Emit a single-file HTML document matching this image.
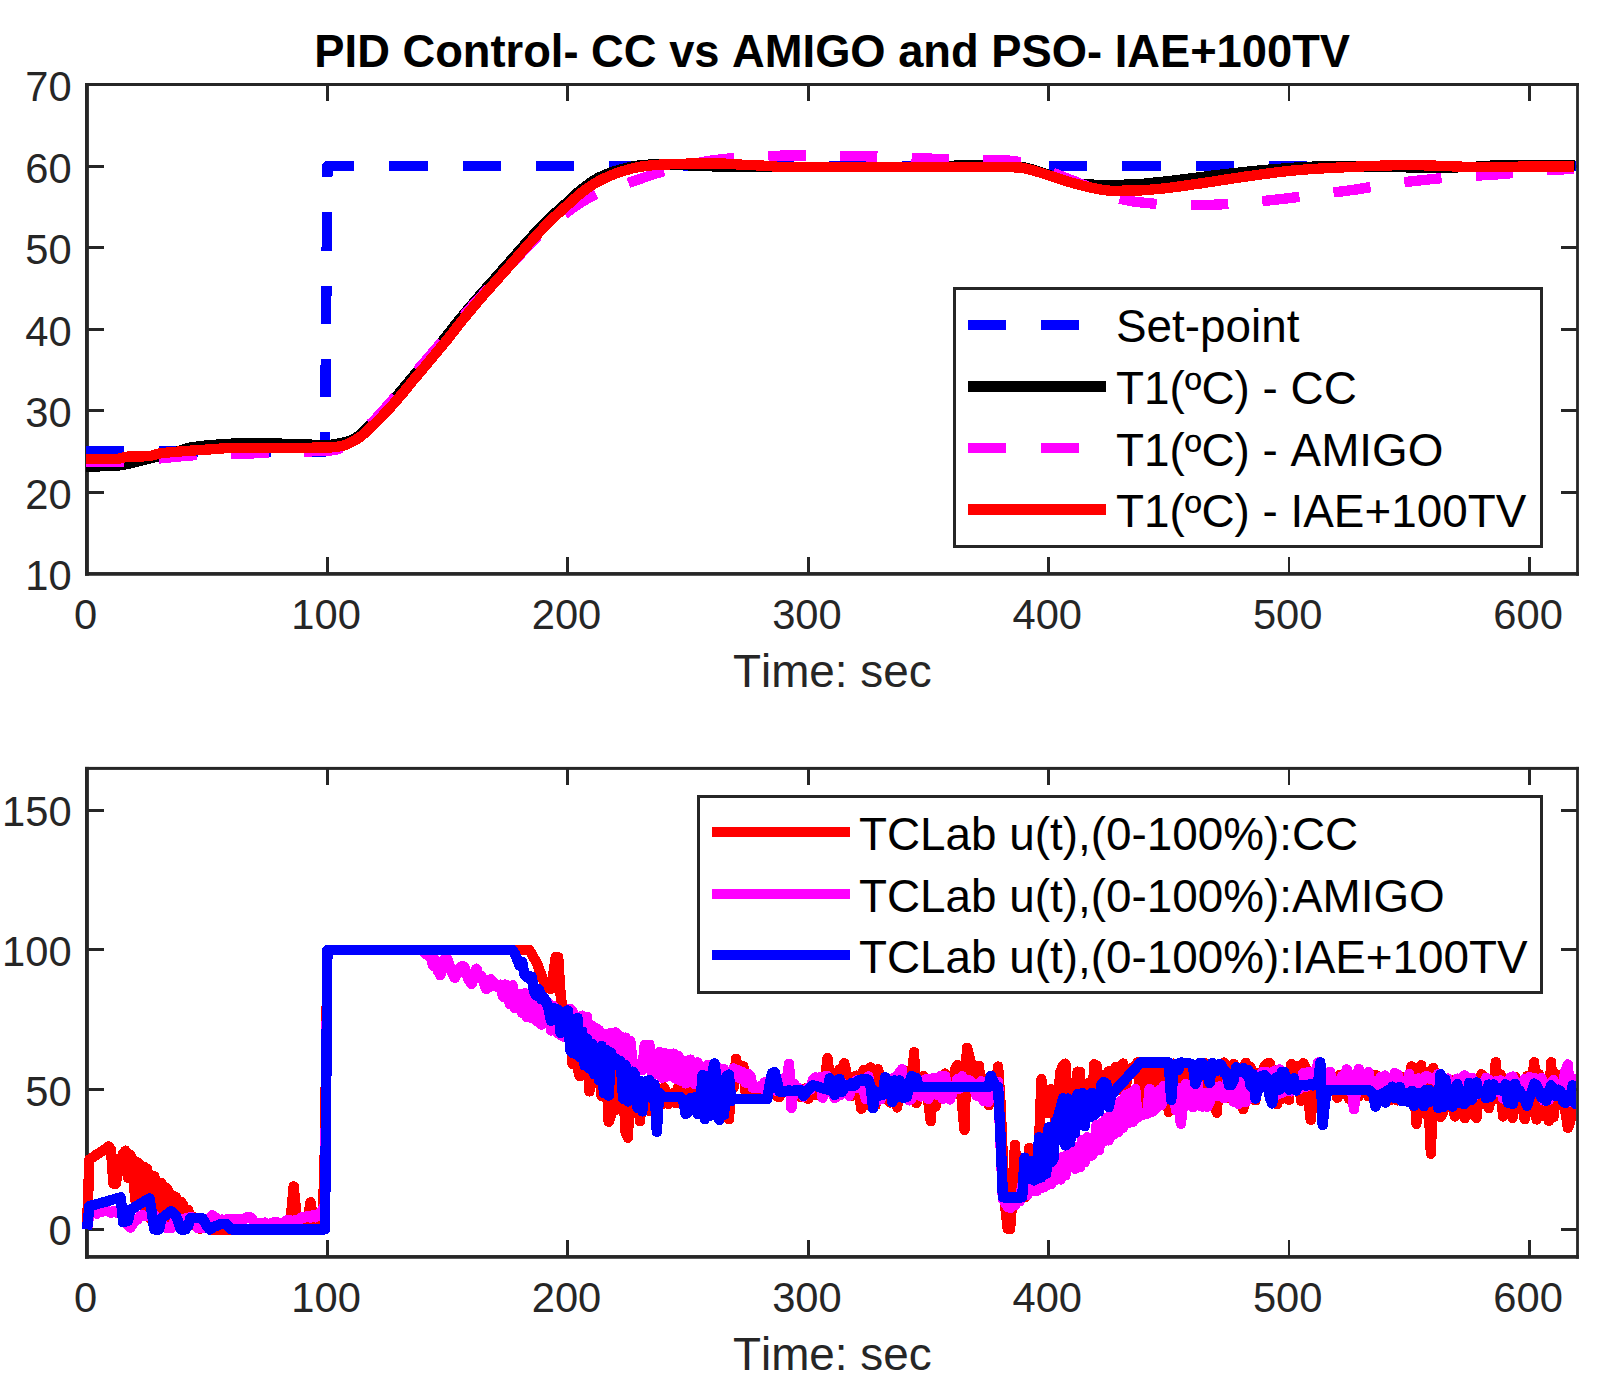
<!DOCTYPE html>
<html lang="en"><head><meta charset="utf-8">
<title>PID Control- CC vs AMIGO and PSO- IAE+100TV</title>
<style>
html,body{margin:0;padding:0;background:#fff;}
body{width:1618px;height:1386px;overflow:hidden;}
svg{display:block;}
text{font-family:"Liberation Sans", sans-serif;fill:#262626;font-kerning:none;}
.tk{font-size:41.67px;}
.lb{font-size:45.83px;}
.lg{font-size:45.83px;fill:#000;}
.tt{font-size:45.3px;font-weight:bold;fill:#000;}
.ax{stroke:#262626;fill:none;}
.d{fill:none;stroke-width:10.4;stroke-linejoin:round;stroke-linecap:butt;}
</style></head><body>
<svg width="1618" height="1386" viewBox="0 0 1618 1386">
<rect x="0" y="0" width="1618" height="1386" fill="#ffffff"/>
<defs>
<clipPath id="ct"><rect x="85.8" y="84.5" width="1490.2" height="489.3"/></clipPath>
<clipPath id="cb"><rect x="81.0" y="768.4" width="1495.0" height="488.4"/></clipPath>
</defs>
<g fill="#262626">
<rect x="85" y="83.00" width="3.9" height="492.70"/>
<rect x="1576.1" y="83.00" width="2.8" height="492.70"/>
<rect x="85" y="83.00" width="1493.9" height="3.0"/>
<rect x="85" y="572.05" width="1493.9" height="3.7"/>
</g>
<g class="ax" shape-rendering="crispEdges">
<path stroke-width="2.9" d="M327.4 573.8V557.3M327.4 84.5V101.0M567.8 573.8V557.3M567.8 84.5V101.0M808.2 573.8V557.3M808.2 84.5V101.0M1048.6 573.8V557.3M1048.6 84.5V101.0M1289.0 573.8V557.3M1289.0 84.5V101.0M1529.4 573.8V557.3M1529.4 84.5V101.0M87.0 492.2H103.5M1577.5 492.2H1561.0M87.0 410.7H103.5M1577.5 410.7H1561.0M87.0 329.1H103.5M1577.5 329.1H1561.0M87.0 247.6H103.5M1577.5 247.6H1561.0M87.0 166.1H103.5M1577.5 166.1H1561.0"/>
</g>
<text class="tk" text-anchor="middle" x="85.7" y="629.4">0</text>
<text class="tk" text-anchor="middle" x="326.1" y="629.4">100</text>
<text class="tk" text-anchor="middle" x="566.5" y="629.4">200</text>
<text class="tk" text-anchor="middle" x="806.9" y="629.4">300</text>
<text class="tk" text-anchor="middle" x="1047.3" y="629.4">400</text>
<text class="tk" text-anchor="middle" x="1287.7" y="629.4">500</text>
<text class="tk" text-anchor="middle" x="1528.1" y="629.4">600</text>
<text class="tk" text-anchor="end" x="71.6" y="590.2">10</text>
<text class="tk" text-anchor="end" x="71.6" y="508.6">20</text>
<text class="tk" text-anchor="end" x="71.6" y="427.1">30</text>
<text class="tk" text-anchor="end" x="71.6" y="345.5">40</text>
<text class="tk" text-anchor="end" x="71.6" y="264.0">50</text>
<text class="tk" text-anchor="end" x="71.6" y="182.5">60</text>
<text class="tk" text-anchor="end" x="71.6" y="100.9">70</text>
<text class="lb" text-anchor="middle" x="832.3" y="686.9">Time: sec</text>
<g fill="#262626">
<rect x="85" y="766.90" width="3.9" height="491.80"/>
<rect x="1576.1" y="766.90" width="2.8" height="491.80"/>
<rect x="85" y="766.90" width="1493.9" height="3.0"/>
<rect x="85" y="1255.05" width="1493.9" height="3.7"/>
</g>
<g class="ax" shape-rendering="crispEdges">
<path stroke-width="2.9" d="M327.4 1256.8V1240.3M327.4 768.4V784.9M567.8 1256.8V1240.3M567.8 768.4V784.9M808.2 1256.8V1240.3M808.2 768.4V784.9M1048.6 1256.8V1240.3M1048.6 768.4V784.9M1289.0 1256.8V1240.3M1289.0 768.4V784.9M1529.4 1256.8V1240.3M1529.4 768.4V784.9M87.0 1229.4H103.5M1577.5 1229.4H1561.0M87.0 1089.7H103.5M1577.5 1089.7H1561.0M87.0 949.9H103.5M1577.5 949.9H1561.0M87.0 810.2H103.5M1577.5 810.2H1561.0"/>
</g>
<text class="tk" text-anchor="middle" x="85.7" y="1312.4">0</text>
<text class="tk" text-anchor="middle" x="326.1" y="1312.4">100</text>
<text class="tk" text-anchor="middle" x="566.5" y="1312.4">200</text>
<text class="tk" text-anchor="middle" x="806.9" y="1312.4">300</text>
<text class="tk" text-anchor="middle" x="1047.3" y="1312.4">400</text>
<text class="tk" text-anchor="middle" x="1287.7" y="1312.4">500</text>
<text class="tk" text-anchor="middle" x="1528.1" y="1312.4">600</text>
<text class="tk" text-anchor="end" x="71.6" y="1245.4">0</text>
<text class="tk" text-anchor="end" x="71.6" y="1105.7">50</text>
<text class="tk" text-anchor="end" x="71.6" y="965.9">100</text>
<text class="tk" text-anchor="end" x="71.6" y="826.2">150</text>
<text class="lb" text-anchor="middle" x="832.3" y="1369.9">Time: sec</text>
<g clip-path="url(#ct)" shape-rendering="crispEdges">
<path class="d" stroke="#0000ff" stroke-dasharray="38.3 35" d="M86.0 451.5L325.0 451.5L327.4 166.1L1577.5 166.1"/>
<path class="d" stroke="#000000" d="M86.0 466.4L88.0 466.4L90.0 466.4L92.0 466.4L94.0 466.4L96.0 466.3L98.0 466.3L100.0 466.3L102.0 466.2L104.0 466.2L106.0 466.2L108.0 466.1L110.0 466.0L112.0 466.0L114.0 465.9L116.0 465.7L118.0 465.5L120.0 465.2L122.0 465.0L124.0 464.7L126.0 464.3L128.0 463.9L130.0 463.5L132.0 463.0L134.0 462.4L136.0 461.9L138.0 461.3L140.0 460.8L142.0 460.3L144.0 459.8L146.0 459.3L148.0 458.8L150.0 458.3L152.0 457.8L154.0 457.3L156.0 456.8L158.0 456.3L160.0 455.7L162.0 455.3L164.0 454.8L166.0 454.3L168.0 453.8L170.0 453.3L172.0 452.9L174.0 452.3L176.0 451.8L178.0 451.3L180.0 450.7L182.0 449.9L184.0 449.2L186.0 448.5L188.0 448.1L190.0 447.7L192.0 447.3L194.0 447.0L196.0 446.7L198.0 446.4L200.0 446.2L202.0 445.9L204.0 445.7L206.0 445.5L208.0 445.3L210.0 445.2L212.0 445.0L214.0 444.9L216.0 444.7L218.0 444.6L220.0 444.4L222.0 444.3L224.0 444.1L226.0 444.0L228.0 443.9L230.0 443.8L232.0 443.6L234.0 443.5L236.0 443.5L238.0 443.4L240.0 443.3L242.0 443.3L244.0 443.2L246.0 443.2L248.0 443.2L250.0 443.2L252.0 443.2L254.0 443.2L256.0 443.2L258.0 443.3L260.0 443.3L262.0 443.3L264.0 443.3L266.0 443.4L268.0 443.4L270.0 443.4L272.0 443.5L274.0 443.5L276.0 443.6L278.0 443.6L280.0 443.6L282.0 443.7L284.0 443.7L286.0 443.8L288.0 443.8L290.0 443.9L292.0 443.9L294.0 444.0L296.0 444.0L298.0 444.1L300.0 444.2L302.0 444.3L304.0 444.4L306.0 444.4L308.0 444.5L310.0 444.6L312.0 444.7L314.0 444.8L316.0 444.8L318.0 444.9L320.0 444.9L322.0 445.0L324.0 445.0L326.0 445.0L328.0 445.0L330.0 444.8L332.0 444.6L334.0 444.3L336.0 444.0L338.0 443.6L340.0 443.3L342.0 442.8L344.0 442.4L346.0 441.8L348.0 441.2L350.0 440.5L352.0 439.8L354.0 438.9L356.0 437.8L358.0 436.4L360.0 434.8L362.0 433.0L364.0 431.1L366.0 429.1L368.0 427.1L370.0 425.0L372.0 422.9L374.0 420.9L376.0 418.9L378.0 416.9L380.0 414.8L382.0 412.7L384.0 410.6L386.0 408.4L388.0 406.1L390.0 403.9L392.0 401.6L394.0 399.3L396.0 397.0L398.0 394.6L400.0 392.2L402.0 389.8L404.0 387.3L406.0 384.9L408.0 382.5L410.0 380.0L412.0 377.6L414.0 375.3L416.0 372.9L418.0 370.5L420.0 368.1L422.0 365.7L424.0 363.3L426.0 360.9L428.0 358.5L430.0 356.1L432.0 353.7L434.0 351.4L436.0 349.0L438.0 346.6L440.0 344.1L442.0 341.7L444.0 339.2L446.0 336.7L448.0 334.2L450.0 331.6L452.0 329.1L454.0 326.5L456.0 323.9L458.0 321.4L460.0 318.9L462.0 316.5L464.0 314.0L466.0 311.6L468.0 309.2L470.0 306.8L472.0 304.5L474.0 302.1L476.0 299.8L478.0 297.5L480.0 295.2L482.0 292.9L484.0 290.7L486.0 288.4L488.0 286.2L490.0 284.0L492.0 281.7L494.0 279.5L496.0 277.2L498.0 274.9L500.0 272.7L502.0 270.4L504.0 268.1L506.0 265.9L508.0 263.6L510.0 261.3L512.0 259.0L514.0 256.7L516.0 254.5L518.0 252.1L520.0 249.9L522.0 247.6L524.0 245.3L526.0 243.0L528.0 240.8L530.0 238.6L532.0 236.4L534.0 234.3L536.0 232.1L538.0 230.0L540.0 227.8L542.0 225.8L544.0 223.7L546.0 221.7L548.0 219.7L550.0 217.8L552.0 215.9L554.0 214.1L556.0 212.3L558.0 210.5L560.0 208.7L562.0 206.9L564.0 205.2L566.0 203.4L568.0 201.6L570.0 199.7L572.0 197.8L574.0 195.8L576.0 194.0L578.0 192.2L580.0 190.6L582.0 189.0L584.0 187.4L586.0 185.9L588.0 184.4L590.0 183.0L592.0 181.6L594.0 180.3L596.0 179.1L598.0 178.0L600.0 177.0L602.0 176.1L604.0 175.2L606.0 174.3L608.0 173.5L610.0 172.8L612.0 172.1L614.0 171.4L616.0 170.8L618.0 170.2L620.0 169.6L622.0 169.1L624.0 168.5L626.0 168.0L628.0 167.5L630.0 167.0L632.0 166.6L634.0 166.2L636.0 165.9L638.0 165.6L640.0 165.4L642.0 165.2L644.0 165.0L646.0 164.8L648.0 164.7L650.0 164.5L652.0 164.4L654.0 164.3L656.0 164.2L658.0 164.2L660.0 164.2L662.0 164.2L664.0 164.3L666.0 164.3L668.0 164.4L670.0 164.5L672.0 164.6L674.0 164.7L676.0 164.8L678.0 164.9L680.0 165.0L682.0 165.1L684.0 165.2L686.0 165.2L688.0 165.3L690.0 165.4L692.0 165.5L694.0 165.6L696.0 165.7L698.0 165.8L700.0 165.8L702.0 165.9L704.0 166.0L706.0 166.1L708.0 166.2L710.0 166.2L712.0 166.3L714.0 166.4L716.0 166.5L718.0 166.6L720.0 166.6L722.0 166.7L724.0 166.8L726.0 166.9L728.0 167.0L730.0 167.1L732.0 167.1L734.0 167.2L736.0 167.2L738.0 167.2L740.0 167.2L742.0 167.2L744.0 167.2L746.0 167.2L748.0 167.2L750.0 167.2L752.0 167.2L754.0 167.2L756.0 167.2L758.0 167.2L760.0 167.2L762.0 167.2L764.0 167.2L766.0 167.2L768.0 167.2L770.0 167.1L772.0 167.1L774.0 167.1L776.0 167.1L778.0 167.1L780.0 167.1L782.0 167.0L784.0 167.0L786.0 167.0L788.0 167.0L790.0 167.0L792.0 167.0L794.0 167.0L796.0 167.0L798.0 167.0L800.0 167.0L802.0 167.0L804.0 167.0L806.0 167.0L808.0 167.0L810.0 167.0L812.0 167.0L814.0 167.0L816.0 167.0L818.0 167.0L820.0 167.0L822.0 167.0L824.0 167.0L826.0 167.0L828.0 167.0L830.0 167.0L832.0 167.0L834.0 167.0L836.0 167.0L838.0 167.0L840.0 167.0L842.0 167.0L844.0 167.0L846.0 167.0L848.0 167.0L850.0 167.0L852.0 167.0L854.0 167.0L856.0 167.0L858.0 167.0L860.0 167.0L862.0 167.0L864.0 167.0L866.0 167.0L868.0 167.0L870.0 167.0L872.0 167.0L874.0 167.0L876.0 167.0L878.0 167.0L880.0 167.0L882.0 167.0L884.0 167.0L886.0 167.0L888.0 167.0L890.0 167.0L892.0 167.0L894.0 167.0L896.0 167.0L898.0 167.0L900.0 167.0L902.0 167.0L904.0 167.0L906.0 167.0L908.0 167.0L910.0 167.0L912.0 167.0L914.0 167.0L916.0 167.0L918.0 167.0L920.0 167.0L922.0 167.0L924.0 166.9L926.0 166.9L928.0 166.9L930.0 166.9L932.0 166.9L934.0 166.9L936.0 166.9L938.0 166.8L940.0 166.7L942.0 166.6L944.0 166.4L946.0 166.2L948.0 166.0L950.0 165.8L952.0 165.8L954.0 165.7L956.0 165.6L958.0 165.5L960.0 165.5L962.0 165.4L964.0 165.4L966.0 165.3L968.0 165.3L970.0 165.2L972.0 165.2L974.0 165.2L976.0 165.2L978.0 165.2L980.0 165.3L982.0 165.4L984.0 165.5L986.0 165.6L988.0 165.7L990.0 165.8L992.0 165.9L994.0 165.9L996.0 166.0L998.0 166.0L1000.0 166.0L1002.0 166.1L1004.0 166.1L1006.0 166.2L1008.0 166.2L1010.0 166.2L1012.0 166.3L1014.0 166.4L1016.0 166.5L1018.0 166.5L1020.0 166.7L1022.0 166.9L1024.0 167.3L1026.0 167.8L1028.0 168.3L1030.0 168.8L1032.0 169.3L1034.0 169.9L1036.0 170.6L1038.0 171.2L1040.0 171.9L1042.0 172.6L1044.0 173.4L1046.0 174.1L1048.0 174.7L1050.0 175.4L1052.0 176.0L1054.0 176.7L1056.0 177.4L1058.0 178.1L1060.0 178.8L1062.0 179.4L1064.0 180.1L1066.0 180.7L1068.0 181.3L1070.0 181.8L1072.0 182.2L1074.0 182.6L1076.0 182.9L1078.0 183.3L1080.0 183.6L1082.0 183.9L1084.0 184.2L1086.0 184.4L1088.0 184.5L1090.0 184.6L1092.0 184.6L1094.0 184.7L1096.0 184.7L1098.0 184.7L1100.0 184.7L1102.0 184.8L1104.0 184.8L1106.0 184.8L1108.0 184.8L1110.0 184.8L1112.0 184.8L1114.0 184.8L1116.0 184.8L1118.0 184.8L1120.0 184.7L1122.0 184.7L1124.0 184.7L1126.0 184.6L1128.0 184.6L1130.0 184.6L1132.0 184.5L1134.0 184.5L1136.0 184.4L1138.0 184.3L1140.0 184.1L1142.0 183.9L1144.0 183.7L1146.0 183.5L1148.0 183.2L1150.0 183.0L1152.0 182.8L1154.0 182.6L1156.0 182.4L1158.0 182.2L1160.0 182.0L1162.0 181.8L1164.0 181.6L1166.0 181.4L1168.0 181.1L1170.0 180.9L1172.0 180.7L1174.0 180.5L1176.0 180.3L1178.0 180.0L1180.0 179.8L1182.0 179.5L1184.0 179.3L1186.0 179.0L1188.0 178.8L1190.0 178.5L1192.0 178.3L1194.0 178.0L1196.0 177.7L1198.0 177.5L1200.0 177.2L1202.0 176.9L1204.0 176.7L1206.0 176.4L1208.0 176.2L1210.0 175.9L1212.0 175.6L1214.0 175.4L1216.0 175.2L1218.0 174.9L1220.0 174.7L1222.0 174.5L1224.0 174.2L1226.0 174.0L1228.0 173.8L1230.0 173.6L1232.0 173.3L1234.0 173.1L1236.0 172.9L1238.0 172.7L1240.0 172.4L1242.0 172.2L1244.0 172.0L1246.0 171.8L1248.0 171.6L1250.0 171.4L1252.0 171.2L1254.0 171.0L1256.0 170.8L1258.0 170.6L1260.0 170.4L1262.0 170.2L1264.0 170.0L1266.0 169.9L1268.0 169.7L1270.0 169.6L1272.0 169.4L1274.0 169.2L1276.0 169.1L1278.0 168.9L1280.0 168.8L1282.0 168.6L1284.0 168.5L1286.0 168.3L1288.0 168.1L1290.0 168.0L1292.0 167.8L1294.0 167.7L1296.0 167.5L1298.0 167.4L1300.0 167.3L1302.0 167.1L1304.0 167.0L1306.0 166.9L1308.0 166.8L1310.0 166.7L1312.0 166.7L1314.0 166.6L1316.0 166.6L1318.0 166.5L1320.0 166.5L1322.0 166.5L1324.0 166.5L1326.0 166.5L1328.0 166.5L1330.0 166.5L1332.0 166.5L1334.0 166.5L1336.0 166.5L1338.0 166.5L1340.0 166.5L1342.0 166.5L1344.0 166.5L1346.0 166.5L1348.0 166.5L1350.0 166.5L1352.0 166.5L1354.0 166.5L1356.0 166.5L1358.0 166.5L1360.0 166.5L1362.0 166.5L1364.0 166.5L1366.0 166.5L1368.0 166.6L1370.0 166.6L1372.0 166.6L1374.0 166.7L1376.0 166.7L1378.0 166.8L1380.0 166.8L1382.0 166.8L1384.0 166.9L1386.0 166.9L1388.0 167.0L1390.0 167.0L1392.0 167.1L1394.0 167.1L1396.0 167.1L1398.0 167.2L1400.0 167.2L1402.0 167.2L1404.0 167.2L1406.0 167.3L1408.0 167.3L1410.0 167.3L1412.0 167.3L1414.0 167.3L1416.0 167.4L1418.0 167.4L1420.0 167.4L1422.0 167.4L1424.0 167.4L1426.0 167.4L1428.0 167.5L1430.0 167.5L1432.0 167.5L1434.0 167.5L1436.0 167.5L1438.0 167.5L1440.0 167.5L1442.0 167.5L1444.0 167.5L1446.0 167.5L1448.0 167.5L1450.0 167.4L1452.0 167.4L1454.0 167.4L1456.0 167.3L1458.0 167.3L1460.0 167.2L1462.0 167.2L1464.0 167.2L1466.0 167.1L1468.0 167.1L1470.0 167.0L1472.0 166.9L1474.0 166.8L1476.0 166.7L1478.0 166.6L1480.0 166.5L1482.0 166.3L1484.0 166.2L1486.0 166.0L1488.0 165.9L1490.0 165.7L1492.0 165.6L1494.0 165.4L1496.0 165.3L1498.0 165.3L1500.0 165.2L1502.0 165.2L1504.0 165.1L1506.0 165.1L1508.0 165.0L1510.0 165.0L1512.0 165.0L1514.0 164.9L1516.0 164.9L1518.0 164.9L1520.0 164.8L1522.0 164.8L1524.0 164.8L1526.0 164.8L1528.0 164.8L1530.0 164.7L1532.0 164.7L1534.0 164.7L1536.0 164.7L1538.0 164.7L1540.0 164.7L1542.0 164.7L1544.0 164.7L1546.0 164.7L1548.0 164.7L1550.0 164.7L1552.0 164.7L1554.0 164.7L1556.0 164.7L1558.0 164.7L1560.0 164.8L1562.0 164.8L1564.0 164.8L1566.0 164.8L1568.0 164.8L1570.0 164.8L1572.0 164.9L1574.0 164.9L1574.5 164.9"/>
<path class="d" stroke="#ff00ff" stroke-dasharray="38.1 34.6" d="M86.0 461.7L88.0 461.7L90.0 461.7L92.0 461.7L94.0 461.7L96.0 461.7L98.0 461.7L100.0 461.7L102.0 461.7L104.0 461.7L106.0 461.6L108.0 461.6L110.0 461.6L112.0 461.6L114.0 461.6L116.0 461.6L118.0 461.6L120.0 461.5L122.0 461.5L124.0 461.5L126.0 461.5L128.0 461.4L130.0 461.3L132.0 461.2L134.0 461.1L136.0 460.9L138.0 460.7L140.0 460.5L142.0 460.3L144.0 460.1L146.0 459.9L148.0 459.7L150.0 459.4L152.0 459.2L154.0 459.0L156.0 458.8L158.0 458.6L160.0 458.4L162.0 458.2L164.0 458.0L166.0 457.8L168.0 457.6L170.0 457.4L172.0 457.2L174.0 457.0L176.0 456.8L178.0 456.6L180.0 456.4L182.0 456.2L184.0 456.0L186.0 455.8L188.0 455.7L190.0 455.5L192.0 455.4L194.0 455.2L196.0 455.1L198.0 455.0L200.0 454.9L202.0 454.9L204.0 454.8L206.0 454.7L208.0 454.6L210.0 454.6L212.0 454.5L214.0 454.4L216.0 454.4L218.0 454.3L220.0 454.3L222.0 454.2L224.0 454.2L226.0 454.1L228.0 454.0L230.0 454.0L232.0 453.9L234.0 453.9L236.0 453.8L238.0 453.8L240.0 453.7L242.0 453.6L244.0 453.6L246.0 453.5L248.0 453.5L250.0 453.4L252.0 453.3L254.0 453.3L256.0 453.2L258.0 453.2L260.0 453.1L262.0 453.1L264.0 453.0L266.0 452.9L268.0 452.9L270.0 452.8L272.0 452.8L274.0 452.7L276.0 452.6L278.0 452.6L280.0 452.5L282.0 452.4L284.0 452.4L286.0 452.3L288.0 452.2L290.0 452.1L292.0 452.1L294.0 452.0L296.0 451.9L298.0 451.8L300.0 451.8L302.0 451.7L304.0 451.6L306.0 451.5L308.0 451.4L310.0 451.4L312.0 451.3L314.0 451.2L316.0 451.1L318.0 451.1L320.0 451.0L322.0 450.9L324.0 450.8L326.0 450.7L328.0 450.6L330.0 450.5L332.0 450.3L334.0 450.0L336.0 449.6L338.0 449.1L340.0 448.5L342.0 447.7L344.0 446.5"/>
<path class="d" stroke="#ff00ff" stroke-dasharray="37.40 34.25" stroke-dashoffset="37.22" d="M344.0 446.5L346.0 445.0L348.0 443.4L350.0 441.7L352.0 440.0L354.0 438.4L356.0 436.8L358.0 435.1L360.0 433.4L362.0 431.7L364.0 429.9L366.0 428.1L368.0 426.2L370.0 424.3L372.0 422.4L374.0 420.4L376.0 418.4L378.0 416.3L380.0 414.1L382.0 411.9L384.0 409.7L386.0 407.4L388.0 405.1L390.0 402.8L392.0 400.5L394.0 398.1L396.0 395.8L398.0 393.4L400.0 390.9L402.0 388.5L404.0 386.1L406.0 383.6L408.0 381.2L410.0 378.9L412.0 376.5L414.0 374.2L416.0 371.9L418.0 369.5L420.0 367.2L422.0 364.9L424.0 362.6L426.0 360.3L428.0 358.0L430.0 355.6L432.0 353.3L434.0 351.0L436.0 348.6L438.0 346.3L440.0 344.0L442.0 341.6L444.0 339.2L446.0 336.9L448.0 334.5L450.0 332.1L452.0 329.7L454.0 327.3L456.0 324.9L458.0 322.5L460.0 320.1L462.0 317.8L464.0 315.5L466.0 313.2L468.0 311.0L470.0 308.7L472.0 306.4L474.0 304.2L476.0 302.0L478.0 299.8L480.0 297.6L482.0 295.4L484.0 293.3L486.0 291.2L488.0 289.0L490.0 286.9L492.0 284.8L494.0 282.7L496.0 280.6L498.0 278.4L500.0 276.3L502.0 274.1L504.0 271.9L506.0 269.8L508.0 267.6L510.0 265.5L512.0 263.3L514.0 261.2L516.0 259.1L518.0 256.9L520.0 254.8L522.0 252.6L524.0 250.5L526.0 248.3L528.0 246.2L530.0 244.2L532.0 242.1L534.0 240.2L536.0 238.3L538.0 236.4L540.0 234.6L542.0 232.8L544.0 231.1L546.0 229.3L548.0 227.6L550.0 225.9L552.0 224.3L554.0 222.6L556.0 221.0L558.0 219.4L560.0 217.8L562.0 216.1L564.0 214.5L566.0 212.9L568.0 211.4L570.0 209.9L572.0 208.4L574.0 207.0L576.0 205.7L578.0 204.4L580.0 203.1L582.0 201.8L584.0 200.6L586.0 199.5L588.0 198.3L590.0 197.2L592.0 196.1L594.0 195.1L596.0 194.2L598.0 193.3L600.0 192.4L602.0 191.6L604.0 190.8L606.0 190.1L608.0 189.4L610.0 188.7L612.0 188.1L614.0 187.4L616.0 186.8L618.0 186.2L620.0 185.6L622.0 184.9L624.0 184.3L626.0 183.7L628.0 183.0L630.0 182.3L632.0 181.6L634.0 181.0L636.0 180.3L638.0 179.6L640.0 178.9L642.0 178.2L644.0 177.5L646.0 176.8L648.0 176.2L650.0 175.5L652.0 174.8L654.0 174.2L656.0 173.5L658.0 172.9L660.0 172.2L662.0 171.6L664.0 171.0L666.0 170.5L668.0 169.9L670.0 169.4L672.0 168.8L674.0 168.3L676.0 167.8L678.0 167.3L680.0 166.8L682.0 166.4L684.0 165.9L686.0 165.5L688.0 165.0L690.0 164.6L692.0 164.2L694.0 163.8L696.0 163.4L698.0 163.0L700.0 162.6L702.0 162.2L704.0 161.8L706.0 161.4L708.0 161.1L710.0 160.8L712.0 160.5L714.0 160.2L716.0 159.9L718.0 159.7L720.0 159.5L722.0 159.2L724.0 159.0L726.0 158.8L728.0 158.6L730.0 158.5L732.0 158.3L734.0 158.1L736.0 157.9L738.0 157.8L740.0 157.6L742.0 157.5L744.0 157.4L746.0 157.2L748.0 157.1L750.0 157.0L752.0 156.9L754.0 156.8L756.0 156.7L758.0 156.6L760.0 156.5L762.0 156.4L764.0 156.2L766.0 156.2L768.0 156.1L770.0 156.0L772.0 155.9L774.0 155.8L776.0 155.8L778.0 155.7L780.0 155.7L782.0 155.6L784.0 155.6L786.0 155.6L788.0 155.6L790.0 155.6L792.0 155.6L794.0 155.6L796.0 155.6L798.0 155.6L800.0 155.6L802.0 155.6L804.0 155.6L806.0 155.6L808.0 155.6L810.0 155.6L812.0 155.6L814.0 155.6L816.0 155.6L818.0 155.6L820.0 155.6L822.0 155.6L824.0 155.6L826.0 155.6L828.0 155.6L830.0 155.6L832.0 155.7L834.0 155.7L836.0 155.7L838.0 155.7L840.0 155.8L842.0 155.8L844.0 155.8L846.0 155.9L848.0 155.9L850.0 155.9L852.0 156.0L854.0 156.0L856.0 156.1L858.0 156.1L860.0 156.1L862.0 156.2L864.0 156.2L866.0 156.3L868.0 156.3L870.0 156.4L872.0 156.5L874.0 156.5L876.0 156.6L878.0 156.7L880.0 156.8L882.0 156.8L884.0 156.9L886.0 157.0L888.0 157.1L890.0 157.1L892.0 157.2L894.0 157.3L896.0 157.4L898.0 157.4L900.0 157.5L902.0 157.6L904.0 157.6L906.0 157.7L908.0 157.8L910.0 157.9L912.0 158.0L914.0 158.0L916.0 158.1L918.0 158.2L920.0 158.3L922.0 158.3L924.0 158.4L926.0 158.5L928.0 158.5L930.0 158.6L932.0 158.7L934.0 158.7L936.0 158.8L938.0 158.8L940.0 158.9L942.0 158.9L944.0 159.0L946.0 159.0L948.0 159.1L950.0 159.1L952.0 159.2L954.0 159.2L956.0 159.3L958.0 159.3L960.0 159.4L962.0 159.4L964.0 159.5L966.0 159.5L968.0 159.6L970.0 159.6L972.0 159.6L974.0 159.7L976.0 159.7L978.0 159.7L980.0 159.8L982.0 159.8L984.0 159.8L986.0 159.8L988.0 159.9L990.0 159.9L992.0 160.0L994.0 160.0L996.0 160.0L998.0 160.1L1000.0 160.2L1002.0 160.2L1004.0 160.3L1006.0 160.4L1008.0 160.6L1010.0 160.7L1012.0 161.0L1014.0 161.2L1016.0 161.5L1018.0 161.8L1020.0 162.2L1022.0 162.5L1024.0 162.9L1026.0 163.4L1028.0 163.9L1030.0 164.6L1032.0 165.2L1034.0 165.9L1036.0 166.6L1038.0 167.3L1040.0 168.0L1042.0 168.7L1044.0 169.4L1046.0 170.2L1048.0 171.0L1050.0 171.7L1052.0 172.5L1054.0 173.3L1056.0 174.1L1058.0 174.9L1060.0 175.7L1062.0 176.4L1064.0 177.2L1066.0 178.0L1068.0 178.8L1070.0 179.5L1072.0 180.3L1074.0 181.1L1076.0 181.9L1078.0 182.7L1080.0 183.5L1082.0 184.3L1084.0 185.1L1086.0 185.9L1088.0 186.8L1090.0 187.7L1092.0 188.6L1094.0 189.5L1096.0 190.4L1098.0 191.3L1100.0 192.2L1102.0 193.1L1104.0 193.9L1106.0 194.7L1108.0 195.4L1110.0 196.0L1112.0 196.6L1114.0 197.1L1116.0 197.7L1118.0 198.2L1120.0 198.7L1122.0 199.2L1124.0 199.7L1126.0 200.1L1128.0 200.5L1130.0 200.9L1132.0 201.3L1134.0 201.6L1136.0 201.9L1138.0 202.1L1140.0 202.3L1142.0 202.5L1144.0 202.8L1146.0 203.0L1148.0 203.2L1150.0 203.3L1152.0 203.5L1154.0 203.7L1156.0 203.8L1158.0 204.0L1160.0 204.1L1162.0 204.2L1164.0 204.3L1166.0 204.4L1168.0 204.5L1170.0 204.5L1172.0 204.5L1174.0 204.6L1176.0 204.6L1178.0 204.6L1180.0 204.6L1182.0 204.7L1184.0 204.7L1186.0 204.7L1188.0 204.7L1190.0 204.7L1192.0 204.7L1194.0 204.8L1196.0 204.8L1198.0 204.8L1200.0 204.8L1202.0 204.8L1204.0 204.8L1206.0 204.8L1208.0 204.8L1210.0 204.8L1212.0 204.8L1214.0 204.7L1216.0 204.6L1218.0 204.5L1220.0 204.4L1222.0 204.3L1224.0 204.2L1226.0 204.0L1228.0 203.9L1230.0 203.7L1232.0 203.6L1234.0 203.4L1236.0 203.2L1238.0 203.1L1240.0 202.9L1242.0 202.7L1244.0 202.6L1246.0 202.4L1248.0 202.3L1250.0 202.1L1252.0 201.9L1254.0 201.8L1256.0 201.6L1258.0 201.4L1260.0 201.2L1262.0 201.0L1264.0 200.9L1266.0 200.7L1268.0 200.5L1270.0 200.3L1272.0 200.1L1274.0 199.9L1276.0 199.6L1278.0 199.4L1280.0 199.2L1282.0 199.0L1284.0 198.8L1286.0 198.5L1288.0 198.3L1290.0 198.0L1292.0 197.8L1294.0 197.5L1296.0 197.2L1298.0 197.0L1300.0 196.7L1302.0 196.4L1304.0 196.2L1306.0 195.9L1308.0 195.6L1310.0 195.3L1312.0 195.1L1314.0 194.8L1316.0 194.5L1318.0 194.3L1320.0 194.0L1322.0 193.8L1324.0 193.5L1326.0 193.3L1328.0 193.0L1330.0 192.8L1332.0 192.6L1334.0 192.3L1336.0 192.1L1338.0 191.8L1340.0 191.6L1342.0 191.4L1344.0 191.1L1346.0 190.9L1348.0 190.6L1350.0 190.3L1352.0 190.1L1354.0 189.8L1356.0 189.5L1358.0 189.2L1360.0 188.8L1362.0 188.5L1364.0 188.2L1366.0 187.9L1368.0 187.5L1370.0 187.2L1372.0 186.8L1374.0 186.5L1376.0 186.2L1378.0 185.8L1380.0 185.5L1382.0 185.2L1384.0 184.9L1386.0 184.6L1388.0 184.3L1390.0 184.0L1392.0 183.7L1394.0 183.5L1396.0 183.2L1398.0 183.0L1400.0 182.7L1402.0 182.5L1404.0 182.2L1406.0 182.0L1408.0 181.8L1410.0 181.5L1412.0 181.3L1414.0 181.1L1416.0 180.9L1418.0 180.6L1420.0 180.4L1422.0 180.2L1424.0 180.0L1426.0 179.8L1428.0 179.6L1430.0 179.3L1432.0 179.1L1434.0 178.9L1436.0 178.7L1438.0 178.5L1440.0 178.3L1442.0 178.1L1444.0 177.9L1446.0 177.7L1448.0 177.5L1450.0 177.3L1452.0 177.1L1454.0 177.0L1456.0 176.8L1458.0 176.6L1460.0 176.5L1462.0 176.4L1464.0 176.2L1466.0 176.1L1468.0 176.0L1470.0 175.9L1472.0 175.8L1474.0 175.7L1476.0 175.6L1478.0 175.5L1480.0 175.4L1482.0 175.3L1484.0 175.2L1486.0 175.1L1488.0 175.0L1490.0 174.9L1492.0 174.7L1494.0 174.6L1496.0 174.5L1498.0 174.3L1500.0 174.2L1502.0 174.0L1504.0 173.8L1506.0 173.6L1508.0 173.5L1510.0 173.3L1512.0 173.1L1514.0 172.9L1516.0 172.7L1518.0 172.5L1520.0 172.3L1522.0 172.2L1524.0 172.0L1526.0 171.8L1528.0 171.7L1530.0 171.5L1532.0 171.3L1534.0 171.2L1536.0 171.0L1538.0 170.9L1540.0 170.7L1542.0 170.6L1544.0 170.4L1546.0 170.3L1548.0 170.2L1550.0 170.0L1552.0 169.9L1554.0 169.8L1556.0 169.7L1558.0 169.6L1560.0 169.4L1562.0 169.4L1564.0 169.3L1566.0 169.2L1568.0 169.1L1570.0 169.0L1572.0 169.0L1574.0 168.9"/>
<path class="d" stroke="#ff0000" d="M86.0 458.9L88.0 458.9L90.0 458.9L92.0 458.9L94.0 458.9L96.0 458.9L98.0 458.9L100.0 458.9L102.0 458.9L104.0 458.9L106.0 458.9L108.0 458.9L110.0 458.9L112.0 458.9L114.0 458.9L116.0 458.9L118.0 458.9L120.0 458.5L122.0 458.0L124.0 457.4L126.0 456.9L128.0 456.6L130.0 456.5L132.0 456.5L134.0 456.4L136.0 456.4L138.0 456.4L140.0 456.3L142.0 456.3L144.0 456.3L146.0 456.2L148.0 456.2L150.0 456.0L152.0 455.5L154.0 454.9L156.0 454.2L158.0 453.7L160.0 453.4L162.0 453.1L164.0 452.9L166.0 452.7L168.0 452.5L170.0 452.3L172.0 452.1L174.0 452.0L176.0 451.8L178.0 451.6L180.0 451.5L182.0 451.3L184.0 451.2L186.0 451.0L188.0 450.9L190.0 450.7L192.0 450.6L194.0 450.4L196.0 450.3L198.0 450.2L200.0 450.0L202.0 449.9L204.0 449.8L206.0 449.6L208.0 449.5L210.0 449.4L212.0 449.2L214.0 449.1L216.0 448.9L218.0 448.8L220.0 448.6L222.0 448.5L224.0 448.3L226.0 448.2L228.0 448.1L230.0 448.0L232.0 447.9L234.0 447.8L236.0 447.8L238.0 447.8L240.0 447.8L242.0 447.8L244.0 447.8L246.0 447.8L248.0 447.7L250.0 447.7L252.0 447.7L254.0 447.7L256.0 447.7L258.0 447.7L260.0 447.7L262.0 447.7L264.0 447.7L266.0 447.7L268.0 447.7L270.0 447.7L272.0 447.7L274.0 447.7L276.0 447.7L278.0 447.7L280.0 447.7L282.0 447.7L284.0 447.7L286.0 447.7L288.0 447.7L290.0 447.7L292.0 447.7L294.0 447.7L296.0 447.7L298.0 447.7L300.0 447.7L302.0 447.7L304.0 447.7L306.0 447.7L308.0 447.7L310.0 447.7L312.0 447.7L314.0 447.6L316.0 447.6L318.0 447.6L320.0 447.6L322.0 447.6L324.0 447.5L326.0 447.5L328.0 447.5L330.0 447.4L332.0 447.3L334.0 447.1L336.0 446.9L338.0 446.6L340.0 446.3L342.0 445.9L344.0 445.3L346.0 444.6L348.0 443.8L350.0 442.8L352.0 441.8L354.0 440.7L356.0 439.6L358.0 438.4L360.0 437.0L362.0 435.5L364.0 433.8L366.0 432.1L368.0 430.2L370.0 428.3L372.0 426.3L374.0 424.4L376.0 422.4L378.0 420.4L380.0 418.4L382.0 416.4L384.0 414.3L386.0 412.2L388.0 410.0L390.0 407.8L392.0 405.6L394.0 403.3L396.0 401.0L398.0 398.7L400.0 396.4L402.0 394.0L404.0 391.6L406.0 389.2L408.0 386.7L410.0 384.3L412.0 381.8L414.0 379.4L416.0 377.0L418.0 374.7L420.0 372.3L422.0 369.9L424.0 367.5L426.0 365.1L428.0 362.7L430.0 360.3L432.0 357.9L434.0 355.5L436.0 353.1L438.0 350.8L440.0 348.4L442.0 345.9L444.0 343.5L446.0 341.1L448.0 338.6L450.0 336.1L452.0 333.5L454.0 331.0L456.0 328.4L458.0 325.8L460.0 323.3L462.0 320.8L464.0 318.3L466.0 315.9L468.0 313.4L470.0 311.0L472.0 308.6L474.0 306.2L476.0 303.9L478.0 301.5L480.0 299.2L482.0 296.9L484.0 294.6L486.0 292.4L488.0 290.1L490.0 287.9L492.0 285.6L494.0 283.4L496.0 281.2L498.0 278.9L500.0 276.6L502.0 274.4L504.0 272.1L506.0 269.8L508.0 267.6L510.0 265.3L512.0 263.0L514.0 260.7L516.0 258.5L518.0 256.2L520.0 253.9L522.0 251.6L524.0 249.3L526.0 247.0L528.0 244.7L530.0 242.5L532.0 240.3L534.0 238.1L536.0 235.9L538.0 233.7L540.0 231.6L542.0 229.4L544.0 227.3L546.0 225.2L548.0 223.2L550.0 221.2L552.0 219.2L554.0 217.3L556.0 215.4L558.0 213.6L560.0 211.8L562.0 210.0L564.0 208.2L566.0 206.4L568.0 204.6L570.0 202.9L572.0 201.1L574.0 199.3L576.0 197.4L578.0 195.6L580.0 193.8L582.0 192.2L584.0 190.7L586.0 189.2L588.0 187.8L590.0 186.5L592.0 185.1L594.0 183.9L596.0 182.7L598.0 181.6L600.0 180.5L602.0 179.5L604.0 178.5L606.0 177.6L608.0 176.7L610.0 175.8L612.0 175.0L614.0 174.2L616.0 173.4L618.0 172.7L620.0 172.1L622.0 171.4L624.0 170.8L626.0 170.2L628.0 169.6L630.0 169.0L632.0 168.5L634.0 168.0L636.0 167.6L638.0 167.2L640.0 166.9L642.0 166.5L644.0 166.2L646.0 166.0L648.0 165.7L650.0 165.5L652.0 165.2L654.0 165.1L656.0 164.9L658.0 164.8L660.0 164.6L662.0 164.5L664.0 164.5L666.0 164.4L668.0 164.3L670.0 164.3L672.0 164.2L674.0 164.2L676.0 164.1L678.0 164.0L680.0 164.0L682.0 163.9L684.0 163.8L686.0 163.7L688.0 163.6L690.0 163.5L692.0 163.4L694.0 163.4L696.0 163.3L698.0 163.3L700.0 163.3L702.0 163.3L704.0 163.3L706.0 163.3L708.0 163.3L710.0 163.3L712.0 163.3L714.0 163.4L716.0 163.4L718.0 163.4L720.0 163.4L722.0 163.5L724.0 163.6L726.0 163.7L728.0 163.8L730.0 163.9L732.0 164.1L734.0 164.2L736.0 164.3L738.0 164.5L740.0 164.6L742.0 164.7L744.0 164.8L746.0 164.8L748.0 164.9L750.0 165.0L752.0 165.1L754.0 165.2L756.0 165.3L758.0 165.4L760.0 165.5L762.0 165.6L764.0 165.7L766.0 165.8L768.0 166.0L770.0 166.1L772.0 166.3L774.0 166.5L776.0 166.6L778.0 166.8L780.0 166.9L782.0 167.0L784.0 167.1L786.0 167.2L788.0 167.2L790.0 167.2L792.0 167.2L794.0 167.2L796.0 167.2L798.0 167.2L800.0 167.2L802.0 167.2L804.0 167.2L806.0 167.2L808.0 167.2L810.0 167.2L812.0 167.2L814.0 167.2L816.0 167.2L818.0 167.2L820.0 167.2L822.0 167.2L824.0 167.2L826.0 167.2L828.0 167.2L830.0 167.2L832.0 167.2L834.0 167.2L836.0 167.2L838.0 167.2L840.0 167.2L842.0 167.2L844.0 167.2L846.0 167.2L848.0 167.2L850.0 167.2L852.0 167.2L854.0 167.2L856.0 167.2L858.0 167.2L860.0 167.2L862.0 167.2L864.0 167.2L866.0 167.2L868.0 167.2L870.0 167.2L872.0 167.2L874.0 167.2L876.0 167.2L878.0 167.2L880.0 167.2L882.0 167.2L884.0 167.2L886.0 167.2L888.0 167.2L890.0 167.2L892.0 167.2L894.0 167.2L896.0 167.2L898.0 167.2L900.0 167.2L902.0 167.2L904.0 167.2L906.0 167.2L908.0 167.2L910.0 167.2L912.0 167.2L914.0 167.2L916.0 167.2L918.0 167.2L920.0 167.2L922.0 167.2L924.0 167.2L926.0 167.2L928.0 167.2L930.0 167.2L932.0 167.2L934.0 167.2L936.0 167.2L938.0 167.2L940.0 167.2L942.0 167.2L944.0 167.2L946.0 167.2L948.0 167.2L950.0 167.1L952.0 167.1L954.0 167.1L956.0 167.1L958.0 167.1L960.0 167.1L962.0 167.0L964.0 167.0L966.0 167.0L968.0 167.0L970.0 167.0L972.0 167.0L974.0 166.9L976.0 166.9L978.0 166.9L980.0 166.9L982.0 166.9L984.0 166.9L986.0 166.9L988.0 166.9L990.0 166.9L992.0 166.9L994.0 166.9L996.0 166.9L998.0 167.0L1000.0 167.0L1002.0 167.0L1004.0 167.0L1006.0 167.1L1008.0 167.1L1010.0 167.2L1012.0 167.2L1014.0 167.3L1016.0 167.3L1018.0 167.4L1020.0 167.5L1022.0 167.7L1024.0 168.1L1026.0 168.6L1028.0 169.1L1030.0 169.6L1032.0 170.1L1034.0 170.7L1036.0 171.2L1038.0 171.9L1040.0 172.5L1042.0 173.2L1044.0 173.8L1046.0 174.5L1048.0 175.2L1050.0 175.8L1052.0 176.4L1054.0 177.1L1056.0 177.7L1058.0 178.4L1060.0 179.0L1062.0 179.7L1064.0 180.3L1066.0 181.0L1068.0 181.6L1070.0 182.2L1072.0 182.8L1074.0 183.3L1076.0 183.9L1078.0 184.4L1080.0 185.0L1082.0 185.5L1084.0 186.0L1086.0 186.5L1088.0 187.0L1090.0 187.5L1092.0 187.9L1094.0 188.3L1096.0 188.7L1098.0 189.1L1100.0 189.4L1102.0 189.7L1104.0 190.0L1106.0 190.3L1108.0 190.6L1110.0 190.7L1112.0 190.7L1114.0 190.7L1116.0 190.7L1118.0 190.7L1120.0 190.7L1122.0 190.7L1124.0 190.6L1126.0 190.6L1128.0 190.6L1130.0 190.6L1132.0 190.6L1134.0 190.5L1136.0 190.5L1138.0 190.5L1140.0 190.4L1142.0 190.3L1144.0 190.2L1146.0 190.0L1148.0 189.9L1150.0 189.7L1152.0 189.5L1154.0 189.3L1156.0 189.1L1158.0 189.0L1160.0 188.8L1162.0 188.6L1164.0 188.4L1166.0 188.2L1168.0 187.9L1170.0 187.7L1172.0 187.4L1174.0 187.2L1176.0 186.9L1178.0 186.6L1180.0 186.4L1182.0 186.1L1184.0 185.8L1186.0 185.5L1188.0 185.2L1190.0 184.9L1192.0 184.6L1194.0 184.3L1196.0 184.1L1198.0 183.8L1200.0 183.5L1202.0 183.2L1204.0 182.9L1206.0 182.6L1208.0 182.3L1210.0 182.0L1212.0 181.7L1214.0 181.4L1216.0 181.1L1218.0 180.8L1220.0 180.5L1222.0 180.1L1224.0 179.8L1226.0 179.5L1228.0 179.2L1230.0 178.9L1232.0 178.6L1234.0 178.3L1236.0 178.0L1238.0 177.7L1240.0 177.4L1242.0 177.1L1244.0 176.8L1246.0 176.5L1248.0 176.3L1250.0 176.0L1252.0 175.7L1254.0 175.4L1256.0 175.1L1258.0 174.9L1260.0 174.6L1262.0 174.3L1264.0 174.0L1266.0 173.8L1268.0 173.5L1270.0 173.2L1272.0 172.9L1274.0 172.7L1276.0 172.4L1278.0 172.2L1280.0 171.9L1282.0 171.7L1284.0 171.5L1286.0 171.2L1288.0 171.0L1290.0 170.8L1292.0 170.6L1294.0 170.4L1296.0 170.3L1298.0 170.1L1300.0 169.9L1302.0 169.8L1304.0 169.6L1306.0 169.5L1308.0 169.3L1310.0 169.2L1312.0 169.1L1314.0 168.9L1316.0 168.8L1318.0 168.7L1320.0 168.6L1322.0 168.5L1324.0 168.3L1326.0 168.2L1328.0 168.1L1330.0 168.0L1332.0 167.9L1334.0 167.8L1336.0 167.7L1338.0 167.6L1340.0 167.5L1342.0 167.4L1344.0 167.3L1346.0 167.2L1348.0 167.1L1350.0 167.0L1352.0 166.9L1354.0 166.8L1356.0 166.7L1358.0 166.6L1360.0 166.5L1362.0 166.4L1364.0 166.3L1366.0 166.2L1368.0 166.1L1370.0 166.1L1372.0 166.0L1374.0 165.9L1376.0 165.8L1378.0 165.7L1380.0 165.7L1382.0 165.6L1384.0 165.5L1386.0 165.5L1388.0 165.4L1390.0 165.3L1392.0 165.3L1394.0 165.2L1396.0 165.2L1398.0 165.1L1400.0 165.1L1402.0 165.1L1404.0 165.0L1406.0 165.0L1408.0 165.0L1410.0 165.0L1412.0 165.0L1414.0 165.0L1416.0 165.1L1418.0 165.1L1420.0 165.2L1422.0 165.2L1424.0 165.3L1426.0 165.3L1428.0 165.4L1430.0 165.5L1432.0 165.5L1434.0 165.6L1436.0 165.7L1438.0 165.7L1440.0 165.8L1442.0 165.9L1444.0 165.9L1446.0 166.0L1448.0 166.1L1450.0 166.2L1452.0 166.3L1454.0 166.4L1456.0 166.5L1458.0 166.6L1460.0 166.6L1462.0 166.7L1464.0 166.8L1466.0 166.9L1468.0 166.9L1470.0 167.0L1472.0 167.0L1474.0 167.1L1476.0 167.1L1478.0 167.1L1480.0 167.1L1482.0 167.1L1484.0 167.1L1486.0 167.1L1488.0 167.0L1490.0 167.0L1492.0 167.0L1494.0 167.0L1496.0 167.0L1498.0 166.9L1500.0 166.9L1502.0 166.9L1504.0 166.8L1506.0 166.8L1508.0 166.8L1510.0 166.8L1512.0 166.7L1514.0 166.7L1516.0 166.7L1518.0 166.7L1520.0 166.6L1522.0 166.6L1524.0 166.6L1526.0 166.6L1528.0 166.6L1530.0 166.6L1532.0 166.6L1534.0 166.6L1536.0 166.6L1538.0 166.6L1540.0 166.6L1542.0 166.6L1544.0 166.6L1546.0 166.6L1548.0 166.6L1550.0 166.6L1552.0 166.6L1554.0 166.6L1556.0 166.6L1558.0 166.6L1560.0 166.6L1562.0 166.6L1564.0 166.6L1566.0 166.6L1568.0 166.6L1570.0 166.6L1572.0 166.6L1574.0 166.6"/>
</g>
<g clip-path="url(#cb)" shape-rendering="crispEdges">
<path class="d" stroke="#ff0000" d="M87.0 1229.4L89.4 1159.5L91.8 1157.9L94.2 1156.3L96.6 1154.7L99.0 1153.1L101.4 1151.5L103.8 1149.9L106.2 1148.3L108.6 1146.7L111.0 1149.7L113.4 1183.6L115.8 1183.6L118.3 1170.7L120.7 1161.4L123.1 1153.8L125.5 1150.7L127.9 1177.6L130.3 1154.7L132.7 1159.7L135.1 1199.4L137.5 1162.5L139.9 1165.2L142.3 1204.6L144.7 1167.3L147.1 1169.0L149.5 1217.8L151.9 1175.5L154.3 1176.3L156.7 1222.1L159.1 1182.8L161.5 1182.8L163.9 1221.3L166.3 1188.0L168.7 1191.7L171.1 1221.3L173.5 1196.3L175.9 1197.2L178.4 1226.3L180.8 1201.9L183.2 1205.0L185.6 1228.2L188.0 1209.8L190.4 1215.9L192.8 1224.4L195.2 1217.6L197.6 1219.4L200.0 1228.9L202.4 1227.1L204.8 1226.7L207.2 1228.2L209.6 1228.7L212.0 1229.4L214.4 1229.4L216.8 1229.4L219.2 1229.4L221.6 1229.4L224.0 1229.4L226.4 1229.4L228.8 1229.4L231.2 1229.4L233.6 1229.4L236.1 1229.4L238.5 1229.4L240.9 1229.4L243.3 1229.4L245.7 1229.4L248.1 1229.4L250.5 1229.4L252.9 1229.4L255.3 1229.4L257.7 1229.4L260.1 1229.4L262.5 1229.4L264.9 1229.4L267.3 1229.4L269.7 1229.4L272.1 1229.4L274.5 1229.4L276.9 1229.4L279.3 1229.4L281.7 1229.4L284.1 1229.4L286.5 1229.4L288.9 1229.4L291.3 1212.6L293.7 1186.4L296.2 1212.6L298.6 1228.0L301.0 1228.0L303.4 1228.0L305.8 1228.0L308.2 1215.4L310.6 1202.3L313.0 1218.2L315.4 1228.0L317.8 1227.5L320.2 1227.1L322.6 1226.6L325.0 1145.6L327.4 949.9L329.8 949.9L332.2 949.9L334.6 949.9L337.0 949.9L339.4 949.9L341.8 949.9L344.2 949.9L346.6 949.9L349.0 949.9L351.4 949.9L353.8 949.9L356.3 949.9L358.7 949.9L361.1 949.9L363.5 949.9L365.9 949.9L368.3 949.9L370.7 949.9L373.1 949.9L375.5 949.9L377.9 949.9L380.3 949.9L382.7 949.9L385.1 949.9L387.5 949.9L389.9 949.9L392.3 949.9L394.7 949.9L397.1 949.9L399.5 949.9L401.9 949.9L404.3 949.9L406.7 949.9L409.1 949.9L411.5 949.9L413.9 949.9L416.4 949.9L418.8 949.9L421.2 949.9L423.6 949.9L426.0 949.9L428.4 949.9L430.8 949.9L433.2 949.9L435.6 949.9L438.0 949.9L440.4 949.9L442.8 949.9L445.2 949.9L447.6 949.9L450.0 949.9L452.4 949.9L454.8 949.9L457.2 949.9L459.6 949.9L462.0 949.9L464.4 949.9L466.8 949.9L469.2 949.9L471.6 949.9L474.0 949.9L476.5 949.9L478.9 949.9L481.3 949.9L483.7 949.9L486.1 949.9L488.5 949.9L490.9 949.9L493.3 949.9L495.7 949.9L498.1 949.9L500.5 949.9L502.9 949.9L505.3 949.9L507.7 949.9L510.1 949.9L512.5 949.9L514.9 949.9L517.3 949.9L519.7 949.9L522.1 949.9L524.5 949.9L526.9 949.9L529.3 949.9L531.7 954.1L534.1 958.3L536.6 962.5L539.0 968.9L541.4 975.3L543.8 981.7L546.2 986.6L548.6 987.8L551.0 989.0L553.4 973.1L555.8 957.2L558.2 957.2L560.6 994.6L563.0 1014.5L565.4 1027.5L567.8 1030.6L570.2 1035.7L572.6 1064.3L575.0 1056.6L577.4 1066.7L579.8 1076.2L582.2 1046.8L584.6 1055.4L587.0 1050.0L589.4 1091.4L591.8 1081.3L594.3 1065.3L596.7 1071.2L599.1 1062.1L601.5 1096.0L603.9 1091.6L606.3 1073.0L608.7 1121.8L611.1 1114.3L613.5 1076.2L615.9 1109.9L618.3 1073.9L620.7 1106.4L623.1 1082.1L625.5 1131.6L627.9 1137.7L630.3 1080.7L632.7 1106.1L635.1 1099.2L637.5 1081.6L639.9 1121.0L642.3 1096.1L644.7 1107.9L647.1 1084.5L649.5 1110.9L651.9 1082.3L654.4 1089.1L656.8 1087.4L659.2 1103.2L661.6 1104.4L664.0 1087.3L666.4 1092.4L668.8 1103.9L671.2 1097.7L673.6 1093.0L676.0 1103.2L678.4 1086.9L680.8 1087.7L683.2 1087.1L685.6 1089.6L688.0 1094.0L690.4 1098.5L692.8 1093.1L695.2 1084.8L697.6 1085.7L700.0 1093.3L702.4 1083.6L704.8 1099.4L707.2 1091.6L709.6 1101.8L712.0 1100.8L714.5 1102.4L716.9 1091.9L719.3 1100.7L721.7 1091.8L724.1 1091.7L726.5 1094.6L728.9 1119.0L731.3 1087.2L733.7 1087.5L736.1 1058.9L738.5 1075.7L740.9 1074.9L743.3 1066.5L745.7 1092.3L748.1 1088.7L750.5 1090.0L752.9 1090.5L755.3 1088.3L757.7 1090.7L760.1 1088.7L762.5 1090.5L764.9 1090.6L767.3 1092.4L769.7 1092.2L772.1 1081.7L774.6 1085.5L777.0 1096.5L779.4 1097.1L781.8 1087.7L784.2 1087.7L786.6 1080.9L789.0 1085.6L791.4 1096.0L793.8 1091.5L796.2 1088.7L798.6 1090.9L801.0 1097.3L803.4 1088.9L805.8 1088.3L808.2 1099.0L810.6 1090.4L813.0 1092.9L815.4 1095.3L817.8 1091.3L820.2 1089.1L822.6 1085.5L825.0 1084.6L827.4 1058.1L829.8 1078.4L832.2 1080.9L834.7 1088.9L837.1 1081.6L839.5 1069.6L841.9 1071.6L844.3 1063.1L846.7 1074.5L849.1 1087.3L851.5 1096.1L853.9 1092.8L856.3 1075.7L858.7 1085.3L861.1 1108.7L863.5 1070.0L865.9 1104.9L868.3 1071.5L870.7 1067.4L873.1 1079.2L875.5 1105.0L877.9 1069.3L880.3 1078.0L882.7 1093.2L885.1 1081.5L887.5 1099.0L889.9 1102.4L892.4 1083.7L894.8 1096.1L897.2 1107.4L899.6 1083.9L902.0 1084.3L904.4 1090.9L906.8 1071.0L909.2 1091.5L911.6 1097.6L914.0 1052.2L916.4 1103.2L918.8 1089.4L921.2 1085.0L923.6 1076.0L926.0 1082.8L928.4 1101.7L930.8 1121.0L933.2 1078.7L935.6 1106.2L938.0 1088.0L940.4 1077.4L942.8 1083.5L945.2 1073.6L947.6 1081.4L950.0 1096.1L952.5 1091.1L954.9 1069.8L957.3 1065.0L959.7 1070.7L962.1 1104.4L964.5 1129.9L966.9 1047.7L969.3 1056.1L971.7 1078.6L974.1 1065.4L976.5 1081.9L978.9 1065.9L981.3 1091.0L983.7 1094.1L986.1 1079.6L988.5 1105.3L990.9 1080.1L993.3 1102.1L995.7 1089.1L998.1 1066.5L1000.5 1103.6L1002.9 1159.5L1005.3 1207.0L1007.7 1228.7L1010.1 1229.2L1012.6 1195.9L1015.0 1144.7L1017.4 1195.9L1019.8 1197.3L1022.2 1197.3L1024.6 1197.3L1027.0 1180.8L1029.4 1147.8L1031.8 1180.7L1034.2 1175.5L1036.6 1161.0L1039.0 1146.0L1041.4 1079.3L1043.8 1113.1L1046.2 1097.7L1048.6 1113.1L1051.0 1089.2L1053.4 1098.2L1055.8 1132.1L1058.2 1091.5L1060.6 1071.5L1063.0 1065.4L1065.4 1063.7L1067.8 1101.4L1070.2 1083.2L1072.7 1123.0L1075.1 1117.2L1077.5 1071.7L1079.9 1071.8L1082.3 1112.5L1084.7 1109.5L1087.1 1094.0L1089.5 1082.7L1091.9 1109.5L1094.3 1064.4L1096.7 1065.7L1099.1 1104.4L1101.5 1096.9L1103.9 1074.9L1106.3 1093.3L1108.7 1071.2L1111.1 1086.9L1113.5 1092.1L1115.9 1067.0L1118.3 1069.0L1120.7 1090.4L1123.1 1063.5L1125.5 1089.8L1127.9 1073.1L1130.3 1068.7L1132.8 1067.7L1135.2 1066.0L1137.6 1062.5L1140.0 1097.5L1142.4 1112.0L1144.8 1065.6L1147.2 1067.4L1149.6 1065.8L1152.0 1063.3L1154.4 1098.0L1156.8 1063.6L1159.2 1080.2L1161.6 1062.8L1164.0 1094.0L1166.4 1074.8L1168.8 1112.0L1171.2 1108.3L1173.6 1063.6L1176.0 1080.4L1178.4 1097.5L1180.8 1070.3L1183.2 1083.3L1185.6 1068.0L1188.0 1064.3L1190.5 1067.7L1192.9 1093.9L1195.3 1104.2L1197.7 1100.3L1200.1 1063.3L1202.5 1083.1L1204.9 1063.2L1207.3 1100.7L1209.7 1064.5L1212.1 1098.8L1214.5 1107.4L1216.9 1112.8L1219.3 1068.3L1221.7 1069.6L1224.1 1062.6L1226.5 1082.4L1228.9 1098.1L1231.3 1069.4L1233.7 1063.9L1236.1 1067.6L1238.5 1073.0L1240.9 1091.7L1243.3 1109.2L1245.7 1062.8L1248.1 1073.1L1250.6 1067.2L1253.0 1082.6L1255.4 1100.3L1257.8 1073.0L1260.2 1072.6L1262.6 1072.1L1265.0 1065.3L1267.4 1063.5L1269.8 1063.4L1272.2 1075.0L1274.6 1070.2L1277.0 1104.2L1279.4 1086.9L1281.8 1098.8L1284.2 1094.6L1286.6 1079.4L1289.0 1099.8L1291.4 1063.9L1293.8 1075.4L1296.2 1066.1L1298.6 1069.1L1301.0 1100.7L1303.4 1063.3L1305.8 1068.4L1308.2 1096.5L1310.7 1119.8L1313.1 1091.2L1315.5 1081.5L1317.9 1091.2L1320.3 1092.8L1322.7 1074.6L1325.1 1074.4L1327.5 1076.3L1329.9 1087.5L1332.3 1084.7L1334.7 1083.3L1337.1 1097.7L1339.5 1074.8L1341.9 1078.1L1344.3 1094.4L1346.7 1075.4L1349.1 1099.0L1351.5 1092.5L1353.9 1074.8L1356.3 1074.7L1358.7 1096.4L1361.1 1083.3L1363.5 1079.3L1365.9 1087.1L1368.3 1096.3L1370.8 1089.0L1373.2 1084.3L1375.6 1074.9L1378.0 1093.5L1380.4 1093.9L1382.8 1089.4L1385.2 1082.3L1387.6 1085.6L1390.0 1099.9L1392.4 1083.2L1394.8 1076.1L1397.2 1100.4L1399.6 1087.9L1402.0 1077.2L1404.4 1098.6L1406.8 1080.3L1409.2 1086.4L1411.6 1066.4L1414.0 1077.7L1416.4 1123.7L1418.8 1075.2L1421.2 1065.2L1423.6 1113.5L1426.0 1072.3L1428.5 1100.7L1430.9 1153.7L1433.3 1067.9L1435.7 1094.9L1438.1 1082.4L1440.5 1117.1L1442.9 1112.8L1445.3 1103.2L1447.7 1089.7L1450.1 1080.0L1452.5 1105.3L1454.9 1116.5L1457.3 1108.8L1459.7 1087.1L1462.1 1084.5L1464.5 1118.3L1466.9 1101.6L1469.3 1095.7L1471.7 1104.2L1474.1 1115.1L1476.5 1118.0L1478.9 1091.3L1481.3 1074.3L1483.7 1077.2L1486.1 1089.1L1488.6 1108.3L1491.0 1099.1L1493.4 1099.5L1495.8 1062.3L1498.2 1093.9L1500.6 1074.4L1503.0 1116.5L1505.4 1110.8L1507.8 1087.3L1510.2 1088.5L1512.6 1117.8L1515.0 1077.1L1517.4 1095.5L1519.8 1088.4L1522.2 1102.8L1524.6 1119.3L1527.0 1076.1L1529.4 1111.7L1531.8 1086.8L1534.2 1062.3L1536.6 1119.5L1539.0 1074.4L1541.4 1087.9L1543.8 1115.7L1546.2 1083.4L1548.7 1120.7L1551.1 1062.3L1553.5 1117.0L1555.9 1074.4L1558.3 1105.1L1560.7 1084.2L1563.1 1074.3L1565.5 1111.8L1567.9 1127.9L1570.3 1121.5L1572.7 1080.0L1575.1 1093.7L1577.5 1101.2"/>
<path class="d" stroke="#ff00ff" d="M87.0 1229.4L89.4 1213.6L91.8 1213.3L94.2 1212.0L96.6 1213.7L99.0 1210.9L101.4 1212.1L103.8 1210.6L106.2 1210.7L108.6 1211.6L111.0 1212.8L113.4 1211.1L115.8 1212.4L118.3 1211.2L120.7 1211.5L123.1 1216.0L125.5 1221.0L127.9 1225.5L130.3 1227.6L132.7 1224.3L135.1 1221.0L137.5 1219.3L139.9 1216.4L142.3 1214.9L144.7 1216.1L147.1 1216.0L149.5 1215.2L151.9 1217.8L154.3 1215.4L156.7 1220.1L159.1 1221.2L161.5 1223.6L163.9 1226.0L166.3 1228.0L168.7 1228.0L171.1 1228.0L173.5 1223.4L175.9 1219.0L178.4 1218.8L180.8 1219.2L183.2 1218.9L185.6 1218.4L188.0 1218.7L190.4 1217.3L192.8 1217.5L195.2 1223.4L197.6 1228.0L200.0 1228.0L202.4 1228.0L204.8 1228.0L207.2 1223.5L209.6 1218.8L212.0 1215.3L214.4 1217.2L216.8 1218.4L219.2 1220.3L221.6 1219.6L224.0 1220.2L226.4 1219.6L228.8 1219.1L231.2 1219.2L233.6 1220.0L236.1 1218.8L238.5 1220.4L240.9 1218.8L243.3 1219.4L245.7 1218.3L248.1 1216.7L250.5 1217.5L252.9 1220.1L255.3 1223.6L257.7 1223.0L260.1 1223.2L262.5 1223.4L264.9 1222.6L267.3 1223.7L269.7 1223.8L272.1 1222.8L274.5 1222.3L276.9 1222.4L279.3 1223.6L281.7 1223.7L284.1 1222.3L286.5 1220.5L288.9 1220.1L291.3 1220.6L293.7 1221.6L296.2 1219.9L298.6 1220.3L301.0 1217.6L303.4 1217.6L305.8 1217.3L308.2 1215.9L310.6 1217.5L313.0 1215.4L315.4 1217.4L317.8 1214.8L320.2 1213.2L322.6 1209.9L325.0 1204.2L327.4 949.9L329.8 949.9L332.2 949.9L334.6 949.9L337.0 949.9L339.4 949.9L341.8 949.9L344.2 949.9L346.6 949.9L349.0 949.9L351.4 949.9L353.8 949.9L356.3 949.9L358.7 949.9L361.1 949.9L363.5 949.9L365.9 949.9L368.3 949.9L370.7 949.9L373.1 949.9L375.5 949.9L377.9 949.9L380.3 949.9L382.7 949.9L385.1 949.9L387.5 949.9L389.9 949.9L392.3 949.9L394.7 949.9L397.1 949.9L399.5 949.9L401.9 949.9L404.3 949.9L406.7 949.9L409.1 949.9L411.5 949.9L413.9 949.9L416.4 949.9L418.8 949.9L421.2 949.9L423.6 950.9L426.0 954.4L428.4 955.4L430.8 956.6L433.2 965.7L435.6 960.1L438.0 970.9L440.4 975.3L442.8 968.1L445.2 958.3L447.6 959.7L450.0 966.7L452.4 973.7L454.8 977.9L457.2 973.7L459.6 968.1L462.0 966.1L464.4 966.7L466.8 975.1L469.2 980.6L471.6 984.0L474.0 977.9L476.5 968.7L478.9 976.5L481.3 975.9L483.7 982.0L486.1 989.0L488.5 987.6L490.9 979.3L493.3 982.0L495.7 986.2L498.1 987.2L500.5 984.6L502.9 996.5L505.3 984.6L507.7 995.8L510.1 1004.3L512.5 985.3L514.9 1008.0L517.3 1003.3L519.7 994.1L522.1 1012.9L524.5 993.3L526.9 1017.1L529.3 997.6L531.7 1017.9L534.1 997.3L536.6 1021.0L539.0 1020.8L541.4 1024.7L543.8 1001.8L546.2 1022.7L548.6 1003.2L551.0 1030.5L553.4 1006.2L555.8 1029.6L558.2 1033.2L560.6 1034.7L563.0 1036.3L565.4 1037.3L567.8 1011.9L570.2 1008.7L572.6 1011.6L575.0 1035.8L577.4 1039.9L579.8 1040.7L582.2 1015.7L584.6 1020.1L587.0 1016.9L589.4 1044.3L591.8 1025.7L594.3 1048.1L596.7 1028.4L599.1 1030.3L601.5 1052.7L603.9 1055.3L606.3 1034.1L608.7 1056.3L611.1 1032.9L613.5 1056.1L615.9 1032.4L618.3 1036.6L620.7 1036.5L623.1 1064.1L625.5 1037.6L627.9 1065.9L630.3 1041.0L632.7 1064.0L635.1 1063.1L637.5 1069.7L639.9 1066.2L642.3 1069.9L644.7 1044.9L647.1 1068.1L649.5 1044.8L651.9 1074.4L654.4 1070.3L656.8 1074.1L659.2 1052.1L661.6 1077.7L664.0 1052.8L666.4 1076.7L668.8 1053.9L671.2 1075.7L673.6 1053.7L676.0 1079.0L678.4 1056.2L680.8 1080.6L683.2 1060.9L685.6 1083.4L688.0 1062.3L690.4 1059.6L692.8 1080.5L695.2 1084.3L697.6 1062.4L700.0 1083.2L702.4 1067.3L704.8 1083.5L707.2 1065.1L709.6 1083.4L712.0 1069.4L714.5 1086.1L716.9 1079.1L719.3 1068.1L721.7 1077.6L724.1 1069.2L726.5 1079.3L728.9 1087.5L731.3 1076.6L733.7 1068.5L736.1 1073.4L738.5 1070.3L740.9 1078.9L743.3 1072.5L745.7 1082.8L748.1 1074.0L750.5 1076.5L752.9 1087.6L755.3 1087.3L757.7 1087.5L760.1 1086.2L762.5 1088.7L764.9 1082.1L767.3 1084.3L769.7 1081.6L772.1 1085.8L774.6 1088.7L777.0 1091.2L779.4 1085.9L781.8 1078.7L784.2 1078.5L786.6 1084.9L789.0 1063.9L791.4 1108.1L793.8 1083.5L796.2 1092.0L798.6 1088.3L801.0 1090.0L803.4 1096.5L805.8 1090.1L808.2 1087.6L810.6 1089.6L813.0 1079.4L815.4 1077.5L817.8 1080.9L820.2 1076.9L822.6 1097.7L825.0 1076.3L827.4 1076.3L829.8 1089.5L832.2 1092.7L834.7 1098.1L837.1 1093.6L839.5 1095.4L841.9 1092.3L844.3 1084.2L846.7 1087.3L849.1 1095.7L851.5 1088.9L853.9 1084.0L856.3 1080.6L858.7 1088.0L861.1 1080.2L863.5 1090.3L865.9 1099.1L868.3 1076.5L870.7 1096.0L873.1 1092.4L875.5 1096.9L877.9 1097.0L880.3 1099.5L882.7 1094.5L885.1 1081.7L887.5 1078.3L889.9 1084.0L892.4 1079.5L894.8 1077.3L897.2 1095.2L899.6 1072.4L902.0 1069.2L904.4 1096.7L906.8 1079.7L909.2 1100.4L911.6 1098.3L914.0 1079.4L916.4 1092.2L918.8 1094.9L921.2 1096.4L923.6 1093.9L926.0 1079.1L928.4 1099.2L930.8 1078.8L933.2 1078.3L935.6 1078.6L938.0 1095.1L940.4 1075.9L942.8 1098.9L945.2 1076.4L947.6 1091.1L950.0 1099.4L952.5 1092.7L954.9 1088.2L957.3 1079.2L959.7 1088.5L962.1 1076.2L964.5 1084.6L966.9 1080.6L969.3 1080.2L971.7 1082.4L974.1 1087.2L976.5 1095.6L978.9 1087.8L981.3 1081.1L983.7 1101.2L986.1 1090.4L988.5 1102.0L990.9 1093.0L993.3 1096.6L995.7 1087.9L998.1 1081.7L1000.5 1142.6L1002.9 1198.8L1005.3 1203.0L1007.7 1207.0L1010.1 1207.9L1012.6 1204.5L1015.0 1205.2L1017.4 1201.4L1019.8 1201.1L1022.2 1185.2L1024.6 1181.1L1027.0 1195.2L1029.4 1177.3L1031.8 1190.9L1034.2 1189.0L1036.6 1191.2L1039.0 1170.8L1041.4 1188.0L1043.8 1187.2L1046.2 1185.7L1048.6 1162.4L1051.0 1183.9L1053.4 1161.7L1055.8 1180.1L1058.2 1178.2L1060.6 1179.4L1063.0 1157.0L1065.4 1175.4L1067.8 1154.2L1070.2 1149.8L1072.7 1148.9L1075.1 1168.7L1077.5 1146.8L1079.9 1167.1L1082.3 1140.2L1084.7 1162.4L1087.1 1137.3L1089.5 1154.2L1091.9 1155.6L1094.3 1150.9L1096.7 1124.7L1099.1 1150.0L1101.5 1123.1L1103.9 1141.5L1106.3 1117.7L1108.7 1140.4L1111.1 1111.5L1113.5 1134.6L1115.9 1106.3L1118.3 1131.9L1120.7 1100.7L1123.1 1127.6L1125.5 1095.1L1127.9 1123.3L1130.3 1092.9L1132.8 1121.8L1135.2 1089.2L1137.6 1117.6L1140.0 1112.5L1142.4 1114.8L1144.8 1114.2L1147.2 1113.6L1149.6 1089.0L1152.0 1112.0L1154.4 1109.8L1156.8 1107.8L1159.2 1090.3L1161.6 1104.9L1164.0 1085.9L1166.4 1086.5L1168.8 1085.2L1171.2 1091.0L1173.6 1087.3L1176.0 1110.5L1178.4 1088.4L1180.8 1123.7L1183.2 1103.6L1185.6 1083.9L1188.0 1101.0L1190.5 1092.5L1192.9 1107.3L1195.3 1102.5L1197.7 1082.6L1200.1 1105.9L1202.5 1106.5L1204.9 1093.3L1207.3 1106.8L1209.7 1101.6L1212.1 1089.5L1214.5 1087.3L1216.9 1096.1L1219.3 1086.5L1221.7 1092.2L1224.1 1098.3L1226.5 1082.8L1228.9 1090.3L1231.3 1079.9L1233.7 1101.6L1236.1 1090.2L1238.5 1104.0L1240.9 1077.5L1243.3 1102.1L1245.7 1102.1L1248.1 1099.1L1250.6 1087.9L1253.0 1077.4L1255.4 1075.0L1257.8 1075.5L1260.2 1079.8L1262.6 1072.1L1265.0 1081.3L1267.4 1072.3L1269.8 1075.3L1272.2 1079.9L1274.6 1070.7L1277.0 1094.6L1279.4 1069.4L1281.8 1092.8L1284.2 1091.7L1286.6 1082.4L1289.0 1079.7L1291.4 1091.4L1293.8 1081.5L1296.2 1086.3L1298.6 1089.4L1301.0 1080.0L1303.4 1073.1L1305.8 1087.0L1308.2 1072.1L1310.7 1073.2L1313.1 1071.7L1315.5 1085.1L1317.9 1062.5L1320.3 1087.9L1322.7 1078.9L1325.1 1074.1L1327.5 1089.1L1329.9 1071.9L1332.3 1081.4L1334.7 1088.4L1337.1 1089.3L1339.5 1084.4L1341.9 1076.2L1344.3 1083.5L1346.7 1069.3L1349.1 1076.2L1351.5 1080.9L1353.9 1109.2L1356.3 1088.1L1358.7 1069.0L1361.1 1086.2L1363.5 1080.7L1365.9 1083.2L1368.3 1072.0L1370.8 1084.2L1373.2 1085.7L1375.6 1085.5L1378.0 1087.0L1380.4 1077.1L1382.8 1086.1L1385.2 1075.6L1387.6 1091.7L1390.0 1082.9L1392.4 1091.7L1394.8 1073.1L1397.2 1074.1L1399.6 1080.3L1402.0 1092.8L1404.4 1091.9L1406.8 1092.5L1409.2 1073.9L1411.6 1087.9L1414.0 1088.8L1416.4 1094.0L1418.8 1078.3L1421.2 1082.9L1423.6 1077.8L1426.0 1076.1L1428.5 1076.7L1430.9 1079.3L1433.3 1078.7L1435.7 1081.0L1438.1 1074.2L1440.5 1091.0L1442.9 1089.3L1445.3 1094.3L1447.7 1078.6L1450.1 1088.8L1452.5 1095.0L1454.9 1095.7L1457.3 1078.7L1459.7 1091.5L1462.1 1078.2L1464.5 1075.5L1466.9 1088.2L1469.3 1090.1L1471.7 1077.9L1474.1 1095.9L1476.5 1092.7L1478.9 1092.7L1481.3 1087.4L1483.7 1086.4L1486.1 1077.8L1488.6 1079.5L1491.0 1096.3L1493.4 1091.7L1495.8 1081.4L1498.2 1089.1L1500.6 1080.3L1503.0 1098.4L1505.4 1096.8L1507.8 1093.2L1510.2 1077.8L1512.6 1076.6L1515.0 1081.3L1517.4 1083.1L1519.8 1089.0L1522.2 1090.2L1524.6 1079.2L1527.0 1100.1L1529.4 1076.9L1531.8 1083.3L1534.2 1077.7L1536.6 1090.3L1539.0 1082.9L1541.4 1078.0L1543.8 1100.5L1546.2 1100.2L1548.7 1099.9L1551.1 1082.3L1553.5 1080.2L1555.9 1095.5L1558.3 1086.8L1560.7 1090.2L1563.1 1082.8L1565.5 1070.9L1567.9 1064.5L1570.3 1101.9L1572.7 1097.2L1575.1 1078.8L1577.5 1084.3"/>
<path class="d" stroke="#0000ff" d="M87.0 1229.4L89.4 1206.2L91.8 1205.5L94.2 1204.8L96.6 1204.2L99.0 1203.5L101.4 1202.8L103.8 1202.1L106.2 1201.5L108.6 1200.8L111.0 1200.1L113.4 1199.4L115.8 1198.7L118.3 1198.0L120.7 1197.3L123.1 1222.1L125.5 1221.6L127.9 1221.0L130.3 1209.8L132.7 1208.3L135.1 1206.9L137.5 1205.4L139.9 1204.0L142.3 1202.6L144.7 1201.2L147.1 1199.8L149.5 1198.4L151.9 1212.6L154.3 1229.4L156.7 1229.4L159.1 1229.4L161.5 1218.2L163.9 1216.5L166.3 1214.7L168.7 1213.0L171.1 1211.2L173.5 1213.3L175.9 1215.4L178.4 1222.4L180.8 1229.4L183.2 1229.4L185.6 1229.4L188.0 1226.2L190.4 1218.2L192.8 1218.2L195.2 1218.2L197.6 1218.2L200.0 1218.2L202.4 1218.2L204.8 1222.4L207.2 1226.6L209.6 1229.4L212.0 1228.0L214.4 1226.6L216.8 1225.7L219.2 1224.7L221.6 1223.8L224.0 1223.8L226.4 1223.8L228.8 1226.6L231.2 1229.4L233.6 1229.4L236.1 1229.4L238.5 1229.4L240.9 1229.4L243.3 1229.4L245.7 1229.4L248.1 1229.4L250.5 1229.4L252.9 1229.4L255.3 1229.4L257.7 1229.4L260.1 1229.4L262.5 1229.4L264.9 1229.4L267.3 1229.4L269.7 1229.4L272.1 1229.4L274.5 1229.4L276.9 1229.4L279.3 1229.4L281.7 1229.4L284.1 1229.4L286.5 1229.4L288.9 1229.4L291.3 1229.4L293.7 1229.4L296.2 1229.4L298.6 1229.4L301.0 1229.4L303.4 1229.4L305.8 1229.4L308.2 1229.4L310.6 1229.4L313.0 1229.4L315.4 1229.4L317.8 1229.4L320.2 1229.4L322.6 1229.4L325.0 1229.4L327.4 949.9L329.8 949.9L332.2 949.9L334.6 949.9L337.0 949.9L339.4 949.9L341.8 949.9L344.2 949.9L346.6 949.9L349.0 949.9L351.4 949.9L353.8 949.9L356.3 949.9L358.7 949.9L361.1 949.9L363.5 949.9L365.9 949.9L368.3 949.9L370.7 949.9L373.1 949.9L375.5 949.9L377.9 949.9L380.3 949.9L382.7 949.9L385.1 949.9L387.5 949.9L389.9 949.9L392.3 949.9L394.7 949.9L397.1 949.9L399.5 949.9L401.9 949.9L404.3 949.9L406.7 949.9L409.1 949.9L411.5 949.9L413.9 949.9L416.4 949.9L418.8 949.9L421.2 949.9L423.6 949.9L426.0 949.9L428.4 949.9L430.8 949.9L433.2 949.9L435.6 949.9L438.0 949.9L440.4 949.9L442.8 949.9L445.2 949.9L447.6 949.9L450.0 949.9L452.4 949.9L454.8 949.9L457.2 949.9L459.6 949.9L462.0 949.9L464.4 949.9L466.8 949.9L469.2 949.9L471.6 949.9L474.0 949.9L476.5 949.9L478.9 949.9L481.3 949.9L483.7 949.9L486.1 949.9L488.5 949.9L490.9 949.9L493.3 949.9L495.7 949.9L498.1 949.9L500.5 949.9L502.9 949.9L505.3 949.9L507.7 949.9L510.1 949.9L512.5 949.9L514.9 953.9L517.3 959.6L519.7 965.6L522.1 961.7L524.5 975.1L526.9 977.3L529.3 976.3L531.7 976.9L534.1 992.1L536.6 995.8L539.0 989.3L541.4 999.4L543.8 997.3L546.2 1001.3L548.6 1008.6L551.0 1020.9L553.4 1008.0L555.8 1019.3L558.2 1009.6L560.6 1033.1L563.0 1016.7L565.4 1012.6L567.8 1010.4L570.2 1049.8L572.6 1053.3L575.0 1053.5L577.4 1017.8L579.8 1057.0L582.2 1031.5L584.6 1065.5L587.0 1038.7L589.4 1068.6L591.8 1043.8L594.3 1074.3L596.7 1050.6L599.1 1080.4L601.5 1046.0L603.9 1093.2L606.3 1049.8L608.7 1095.6L611.1 1052.6L613.5 1064.3L615.9 1058.9L618.3 1065.3L620.7 1061.1L623.1 1098.7L625.5 1065.3L627.9 1101.5L630.3 1074.3L632.7 1071.7L635.1 1075.0L637.5 1108.0L639.9 1080.9L642.3 1111.4L644.7 1081.8L647.1 1080.8L649.5 1080.1L651.9 1098.1L654.4 1084.5L656.8 1131.9L659.2 1092.6L661.6 1096.4L664.0 1097.2L666.4 1097.2L668.8 1097.2L671.2 1097.2L673.6 1097.2L676.0 1097.2L678.4 1097.2L680.8 1097.2L683.2 1100.0L685.6 1114.2L688.0 1111.7L690.4 1098.0L692.8 1099.9L695.2 1097.0L697.6 1114.0L700.0 1114.1L702.4 1075.3L704.8 1119.0L707.2 1075.9L709.6 1116.1L712.0 1074.7L714.5 1063.4L716.9 1079.9L719.3 1120.0L721.7 1079.8L724.1 1114.7L726.5 1076.5L728.9 1074.6L731.3 1100.9L733.7 1099.2L736.1 1099.2L738.5 1099.2L740.9 1099.2L743.3 1099.2L745.7 1099.2L748.1 1099.2L750.5 1099.2L752.9 1099.2L755.3 1099.2L757.7 1099.2L760.1 1099.2L762.5 1099.2L764.9 1099.2L767.3 1099.2L769.7 1084.1L772.1 1072.9L774.6 1071.9L777.0 1081.3L779.4 1091.5L781.8 1091.5L784.2 1091.6L786.6 1090.8L789.0 1090.5L791.4 1090.9L793.8 1091.0L796.2 1090.0L798.6 1091.1L801.0 1090.2L803.4 1096.1L805.8 1092.9L808.2 1089.7L810.6 1087.4L813.0 1085.2L815.4 1085.9L817.8 1086.8L820.2 1087.4L822.6 1088.4L825.0 1088.9L827.4 1089.6L829.8 1078.3L832.2 1088.7L834.7 1095.2L837.1 1086.4L839.5 1078.8L841.9 1092.0L844.3 1087.8L846.7 1084.8L849.1 1085.8L851.5 1083.1L853.9 1085.9L856.3 1083.4L858.7 1080.4L861.1 1079.5L863.5 1080.9L865.9 1078.8L868.3 1079.7L870.7 1087.4L873.1 1108.1L875.5 1091.2L877.9 1096.5L880.3 1091.5L882.7 1094.7L885.1 1077.1L887.5 1081.1L889.9 1090.4L892.4 1102.2L894.8 1080.4L897.2 1083.5L899.6 1080.4L902.0 1097.5L904.4 1097.5L906.8 1096.9L909.2 1084.1L911.6 1075.9L914.0 1086.7L916.4 1077.9L918.8 1086.9L921.2 1086.9L923.6 1086.9L926.0 1086.9L928.4 1086.9L930.8 1086.9L933.2 1086.9L935.6 1086.9L938.0 1086.9L940.4 1086.9L942.8 1086.9L945.2 1086.9L947.6 1086.9L950.0 1086.9L952.5 1086.9L954.9 1086.9L957.3 1086.9L959.7 1086.9L962.1 1086.9L964.5 1086.9L966.9 1086.9L969.3 1086.9L971.7 1086.9L974.1 1086.9L976.5 1086.9L978.9 1086.9L981.3 1086.9L983.7 1086.9L986.1 1086.9L988.5 1086.9L990.9 1075.7L993.3 1081.3L995.7 1086.9L998.1 1086.9L1000.5 1135.9L1002.9 1197.3L1005.3 1197.3L1007.7 1197.3L1010.1 1197.3L1012.6 1197.3L1015.0 1197.3L1017.4 1197.3L1019.8 1197.3L1022.2 1197.3L1024.6 1157.6L1027.0 1179.1L1029.4 1169.6L1031.8 1161.1L1034.2 1180.5L1036.6 1178.5L1039.0 1137.3L1041.4 1177.5L1043.8 1172.0L1046.2 1173.7L1048.6 1127.3L1051.0 1162.6L1053.4 1159.2L1055.8 1121.5L1058.2 1117.0L1060.6 1107.7L1063.0 1098.1L1065.4 1145.4L1067.8 1098.5L1070.2 1142.5L1072.7 1101.1L1075.1 1133.4L1077.5 1094.3L1079.9 1124.8L1082.3 1093.2L1084.7 1126.3L1087.1 1095.0L1089.5 1117.3L1091.9 1092.9L1094.3 1115.1L1096.7 1093.7L1099.1 1111.5L1101.5 1084.6L1103.9 1082.1L1106.3 1083.5L1108.7 1107.2L1111.1 1095.2L1113.5 1092.4L1115.9 1089.7L1118.3 1086.9L1120.7 1084.3L1123.1 1081.7L1125.5 1079.1L1127.9 1076.4L1130.3 1073.8L1132.8 1071.2L1135.2 1068.6L1137.6 1065.8L1140.0 1062.5L1142.4 1062.5L1144.8 1062.5L1147.2 1062.5L1149.6 1062.5L1152.0 1062.5L1154.4 1062.5L1156.8 1062.5L1159.2 1062.5L1161.6 1062.5L1164.0 1062.5L1166.4 1062.5L1168.8 1062.5L1171.2 1100.0L1173.6 1070.3L1176.0 1064.1L1178.4 1070.2L1180.8 1062.6L1183.2 1062.7L1185.6 1062.8L1188.0 1062.8L1190.5 1063.8L1192.9 1064.8L1195.3 1084.0L1197.7 1078.0L1200.1 1063.0L1202.5 1063.0L1204.9 1065.2L1207.3 1074.7L1209.7 1082.9L1212.1 1063.0L1214.5 1065.4L1216.9 1070.8L1219.3 1064.1L1221.7 1065.4L1224.1 1072.9L1226.5 1071.9L1228.9 1084.9L1231.3 1085.2L1233.7 1079.9L1236.1 1067.3L1238.5 1069.1L1240.9 1071.5L1243.3 1068.0L1245.7 1074.5L1248.1 1069.7L1250.6 1086.2L1253.0 1074.2L1255.4 1098.5L1257.8 1090.9L1260.2 1087.7L1262.6 1075.7L1265.0 1075.2L1267.4 1079.2L1269.8 1097.9L1272.2 1103.4L1274.6 1079.0L1277.0 1077.3L1279.4 1089.7L1281.8 1071.9L1284.2 1071.8L1286.6 1084.4L1289.0 1089.6L1291.4 1087.4L1293.8 1078.2L1296.2 1090.6L1298.6 1085.0L1301.0 1084.8L1303.4 1084.9L1305.8 1085.6L1308.2 1085.0L1310.7 1083.8L1313.1 1085.5L1315.5 1084.3L1317.9 1084.5L1320.3 1062.5L1322.7 1124.9L1325.1 1101.4L1327.5 1089.7L1329.9 1089.7L1332.3 1089.7L1334.7 1089.7L1337.1 1089.7L1339.5 1089.7L1341.9 1089.7L1344.3 1089.7L1346.7 1089.7L1349.1 1089.7L1351.5 1089.7L1353.9 1089.7L1356.3 1089.7L1358.7 1089.7L1361.1 1089.7L1363.5 1089.7L1365.9 1089.7L1368.3 1089.7L1370.8 1091.7L1373.2 1094.2L1375.6 1106.7L1378.0 1095.1L1380.4 1099.7L1382.8 1093.3L1385.2 1102.6L1387.6 1090.3L1390.0 1089.9L1392.4 1086.7L1394.8 1097.9L1397.2 1089.8L1399.6 1086.8L1402.0 1101.1L1404.4 1098.2L1406.8 1093.3L1409.2 1102.2L1411.6 1090.8L1414.0 1106.0L1416.4 1098.9L1418.8 1092.8L1421.2 1094.2L1423.6 1106.3L1426.0 1089.8L1428.5 1089.8L1430.9 1101.6L1433.3 1099.0L1435.7 1091.7L1438.1 1108.0L1440.5 1074.3L1442.9 1107.2L1445.3 1079.4L1447.7 1097.5L1450.1 1089.1L1452.5 1106.7L1454.9 1101.3L1457.3 1084.0L1459.7 1102.6L1462.1 1092.9L1464.5 1104.3L1466.9 1097.1L1469.3 1082.8L1471.7 1100.1L1474.1 1093.1L1476.5 1082.5L1478.9 1093.4L1481.3 1091.4L1483.7 1091.9L1486.1 1098.3L1488.6 1084.6L1491.0 1096.6L1493.4 1084.4L1495.8 1090.2L1498.2 1087.8L1500.6 1088.6L1503.0 1091.6L1505.4 1084.3L1507.8 1102.6L1510.2 1089.9L1512.6 1104.1L1515.0 1083.8L1517.4 1091.2L1519.8 1090.6L1522.2 1098.0L1524.6 1099.3L1527.0 1106.0L1529.4 1097.9L1531.8 1092.2L1534.2 1083.6L1536.6 1085.3L1539.0 1091.8L1541.4 1097.4L1543.8 1092.9L1546.2 1101.0L1548.7 1092.2L1551.1 1085.4L1553.5 1088.0L1555.9 1096.3L1558.3 1089.7L1560.7 1091.6L1563.1 1101.8L1565.5 1102.8L1567.9 1099.5L1570.3 1098.5L1572.7 1085.5L1575.1 1103.6L1577.5 1086.2"/>
</g>
<text class="tt" text-anchor="middle" x="832.2" y="66.7">PID Control- CC vs AMIGO and PSO- IAE+100TV</text>
<rect x="954.6" y="288.6" width="586.6" height="258.0" fill="#fff" stroke="#262626" stroke-width="3" shape-rendering="crispEdges"/>
<path class="d" shape-rendering="crispEdges" stroke="#0000ff" stroke-dasharray="38.2 34.7" d="M968.0 325.0H1106.0"/>
<text class="lg" x="1116.0" y="342.0">Set-point</text>
<path class="d" shape-rendering="crispEdges" stroke="#000000" d="M968.0 386.4H1106.0"/>
<text class="lg" x="1116.0" y="404.2">T1(ºC) - CC</text>
<path class="d" shape-rendering="crispEdges" stroke="#ff00ff" stroke-dasharray="38.2 34.7" d="M968.0 448.2H1106.0"/>
<text class="lg" x="1116.0" y="466.0">T1(ºC) - AMIGO</text>
<path class="d" shape-rendering="crispEdges" stroke="#ff0000" d="M968.0 509.3H1106.0"/>
<text class="lg" x="1116.0" y="527.1">T1(ºC) - IAE+100TV</text>
<rect x="698.5" y="796.0" width="842.8" height="196.0" fill="#fff" stroke="#262626" stroke-width="3" shape-rendering="crispEdges"/>
<path class="d" shape-rendering="crispEdges" stroke="#ff0000" d="M711.6 832.0H850.1"/>
<text class="lg" x="859.0" y="849.8">TCLab u(t),(0-100%):CC</text>
<path class="d" shape-rendering="crispEdges" stroke="#ff00ff" d="M711.6 894.0H850.1"/>
<text class="lg" x="859.0" y="911.8">TCLab u(t),(0-100%):AMIGO</text>
<path class="d" shape-rendering="crispEdges" stroke="#0000ff" d="M711.6 955.0H850.1"/>
<text class="lg" x="859.0" y="972.8">TCLab u(t),(0-100%):IAE+100TV</text>
</svg>
</body></html>
